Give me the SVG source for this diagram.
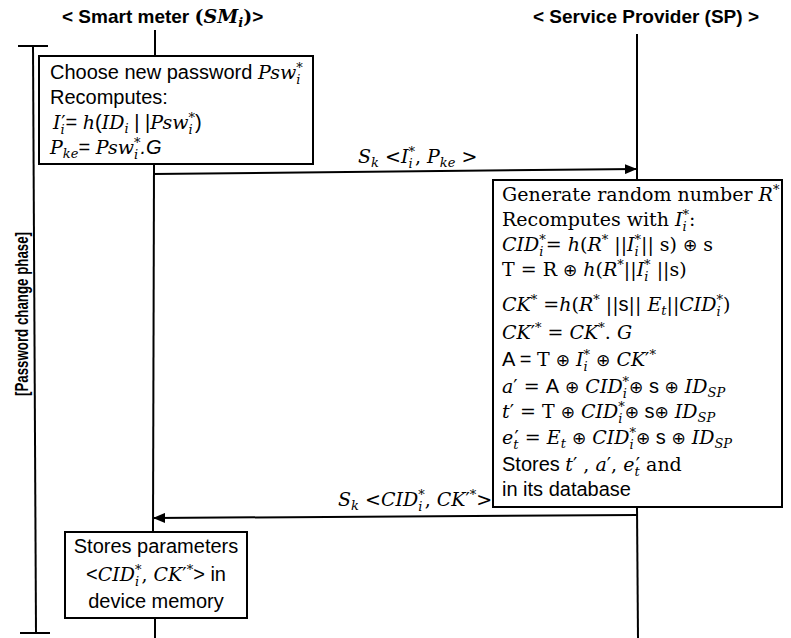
<svg xmlns="http://www.w3.org/2000/svg" width="791" height="638" viewBox="0 0 791 638">
<style>
.t{font-family:"Liberation Sans",Arial,sans-serif;font-size:20px;fill:#000}
.h{font-family:"Liberation Sans",Arial,sans-serif;font-size:19px;font-weight:bold;fill:#000}
.r{font-family:"DejaVu Serif","Liberation Serif",serif;font-size:19px;fill:#000}
.m{font-family:"DejaVu Serif","Liberation Serif",serif;font-style:italic}
.p{font-family:"DejaVu Sans",sans-serif;font-style:normal;font-size:19px}
.x{font-family:"DejaVu Sans",sans-serif;font-style:normal;font-size:17px}
.s{font-size:13px}
.box{fill:#fff;stroke:#000;stroke-width:2}
.ln{stroke:#000;stroke-width:2;fill:none}
</style>
<defs>
<marker id="ah" markerWidth="12" markerHeight="10" refX="11" refY="5" orient="auto" markerUnits="userSpaceOnUse">
<path d="M0,0 L12,5 L0,10 Z" fill="#000"/>
</marker>
</defs>

<g id="connectors">
<line class="ln" x1="155" y1="30" x2="155" y2="56"/>
<line class="ln" x1="154" y1="164" x2="153" y2="532"/>
<line class="ln" x1="155" y1="618" x2="155" y2="638"/>
<line class="ln" x1="637" y1="34" x2="637" y2="180"/>
<line class="ln" x1="637" y1="507" x2="638" y2="638"/>
<line class="ln" x1="153" y1="174" x2="636" y2="169" marker-end="url(#ah)"/>
<line class="ln" x1="637" y1="515" x2="154" y2="518" marker-end="url(#ah)"/>
<text class="r" x="358" y="163" font-size="18"><tspan class="m">S</tspan><tspan class="m s" dy="4">k</tspan><tspan dy="-4"> &lt;</tspan><tspan class="m">I</tspan><tspan class="m s" dy="5">i</tspan><tspan class="m s" dx="-4.2" dy="-12">*</tspan><tspan dy="7">, </tspan><tspan class="m">P</tspan><tspan class="m s" dy="4">ke</tspan><tspan dy="-4"> &gt;</tspan></text>
<text class="r" x="338" y="506" font-size="18"><tspan class="m">S</tspan><tspan class="m s" dy="4">k</tspan><tspan dy="-4"> &lt;</tspan><tspan class="m">CID</tspan><tspan class="m s" dy="5">i</tspan><tspan class="m s" dx="-4.2" dy="-12">*</tspan><tspan dy="7">, </tspan><tspan class="m">CK</tspan><tspan class="p" font-size="17">′</tspan><tspan class="m s" dy="-7">*</tspan><tspan dy="7">&gt;</tspan></text>
</g>

<g id="phase">
<line class="ln" x1="18" y1="46" x2="48" y2="46"/>
<line class="ln" x1="33" y1="46" x2="36" y2="633"/>
<line class="ln" x1="20" y1="633" x2="50" y2="633"/>
<text class="h" font-size="17" transform="translate(28,314) rotate(-90)" text-anchor="middle" textLength="164" lengthAdjust="spacingAndGlyphs">[Password change phase]</text>
</g>

<g id="sm-header">
<text class="h" x="62" y="23">&lt; Smart meter <tspan class="r" font-weight="bold" font-size="18">(</tspan><tspan class="r m" font-weight="bold" font-size="18">SM</tspan><tspan class="r m s" font-weight="bold" dy="4">i</tspan><tspan class="r" font-weight="bold" font-size="18" dy="-4">)</tspan>&gt;</text>
</g>

<g id="sp-header">
<text class="h" x="646" y="23" text-anchor="middle">&lt; Service Provider (SP) &gt;</text>
</g>

<g id="sm-box">
<rect class="box" x="39" y="56" width="274" height="108"/>
<text class="t" x="50" y="79">Choose new password <tspan class="r m">Psw</tspan><tspan class="r m s" dy="5">i</tspan><tspan class="r m s" dx="-4.2" dy="-12">*</tspan></text>
<text class="t" x="50" y="104">Recomputes:</text>
<text class="t" x="53" y="129"><tspan class="r m">I</tspan><tspan class="r m s" dy="5">i</tspan><tspan class="p" dx="-3.5" dy="-5">′</tspan><tspan>= </tspan><tspan class="r m">h</tspan><tspan>(</tspan><tspan class="r m">ID</tspan><tspan class="r m s" dy="4">i</tspan><tspan dy="-4"> | |</tspan><tspan class="r m">Psw</tspan><tspan class="r m s" dy="5">i</tspan><tspan class="r m s" dx="-4.2" dy="-12">*</tspan><tspan dy="7">)</tspan></text>
<text class="t" x="50" y="154"><tspan class="r m">P</tspan><tspan class="r m s" dy="4">ke</tspan><tspan dy="-4">= </tspan><tspan class="r m">Psw</tspan><tspan class="r m s" dy="5">i</tspan><tspan class="r m s" dx="-4.2" dy="-12">*</tspan><tspan dy="7" font-style="italic">.G</tspan></text>
</g>

<g id="sp-box">
<rect class="box" x="493" y="180" width="289" height="327"/>
<text class="r" x="502" y="201">Generate random number <tspan class="m">R</tspan><tspan class="m s" dy="-7">*</tspan></text>
<text class="r" x="502" y="226">Recomputes with <tspan class="m">I</tspan><tspan class="m s" dy="5">i</tspan><tspan class="m s" dx="-4.2" dy="-12">*</tspan><tspan dy="7">:</tspan></text>
<text class="r" x="502" y="251"><tspan class="m">CID</tspan><tspan class="m s" dy="5">i</tspan><tspan class="m s" dx="-4.2" dy="-12">*</tspan><tspan dy="7">= </tspan><tspan class="m">h</tspan>(<tspan class="m">R</tspan><tspan class="m s" dy="-7">*</tspan><tspan dy="7"> ||</tspan><tspan class="m">I</tspan><tspan class="m s" dy="5">i</tspan><tspan class="m s" dx="-4.2" dy="-12">*</tspan><tspan dy="7">|| s) </tspan><tspan class="x">⊕</tspan> s</text>
<text class="r" x="502" y="276">T = R <tspan class="x">⊕</tspan> <tspan class="m">h</tspan>(<tspan class="m">R</tspan><tspan class="m s" dy="-7">*</tspan><tspan dy="7">||</tspan><tspan class="m">I</tspan><tspan class="m s" dy="5">i</tspan><tspan class="m s" dx="-4.2" dy="-12">*</tspan><tspan dy="7"> ||s)</tspan></text>
<text class="r" x="502" y="311"><tspan class="m">CK</tspan><tspan class="m s" dy="-7">*</tspan><tspan dy="7"> =</tspan><tspan class="m">h</tspan>(<tspan class="m">R</tspan><tspan class="m s" dy="-7">*</tspan><tspan dy="7"> ||</tspan><tspan class="t">s</tspan>|| <tspan class="m">E</tspan><tspan class="m s" dy="4">t</tspan><tspan dy="-4">||</tspan><tspan class="m">CID</tspan><tspan class="m s" dy="5">i</tspan><tspan class="m s" dx="-4.2" dy="-12">*</tspan><tspan dy="7">)</tspan></text>
<text class="r" x="502" y="339"><tspan class="m">CK</tspan><tspan class="p">′</tspan><tspan class="m s" dy="-7">*</tspan><tspan dy="7"> = </tspan><tspan class="m">CK</tspan><tspan class="m s" dy="-7">*</tspan><tspan dy="7">. </tspan><tspan class="m">G</tspan></text>
<text class="r" x="502" y="366"><tspan class="t">A = </tspan>T <tspan class="x">⊕</tspan> <tspan class="m">I</tspan><tspan class="m s" dy="5">i</tspan><tspan class="m s" dx="-4.2" dy="-12">*</tspan><tspan dy="7"> </tspan><tspan class="x">⊕</tspan> <tspan class="m">CK</tspan><tspan class="p">′</tspan><tspan class="m s" dy="-7">*</tspan></text>
<text class="r" x="502" y="393"><tspan class="m">a</tspan><tspan class="p">′</tspan> = <tspan class="t">A</tspan> <tspan class="x">⊕</tspan> <tspan class="m">CID</tspan><tspan class="m s" dy="5">i</tspan><tspan class="m s" dx="-4.2" dy="-12">*</tspan><tspan dy="7" class="x">⊕</tspan><tspan class="t"> s </tspan><tspan class="x">⊕</tspan> <tspan class="m">ID</tspan><tspan class="m s" dy="4">SP</tspan></text>
<text class="r" x="502" y="418"><tspan class="m">t</tspan><tspan class="p">′</tspan> = T <tspan class="x">⊕</tspan> <tspan class="m">CID</tspan><tspan class="m s" dy="5">i</tspan><tspan class="m s" dx="-4.2" dy="-12">*</tspan><tspan dy="7" class="x">⊕</tspan><tspan class="t"> s</tspan><tspan class="x">⊕</tspan> <tspan class="m">ID</tspan><tspan class="m s" dy="4">SP</tspan></text>
<text class="r" x="502" y="444"><tspan class="m">e</tspan><tspan class="m s" dy="5">t</tspan><tspan class="p" dx="-4" dy="-5">′</tspan> = <tspan class="m">E</tspan><tspan class="m s" dy="4">t</tspan><tspan dy="-4"> </tspan><tspan class="x">⊕</tspan> <tspan class="m">CID</tspan><tspan class="m s" dy="5">i</tspan><tspan class="m s" dx="-4.2" dy="-12">*</tspan><tspan dy="7" class="x">⊕</tspan><tspan class="t"> s </tspan><tspan class="x">⊕</tspan> <tspan class="m">ID</tspan><tspan class="m s" dy="4">SP</tspan></text>
<text class="r" x="502" y="471"><tspan class="t">Stores  </tspan><tspan class="m">t</tspan><tspan class="p">′</tspan> , <tspan class="m">a</tspan><tspan class="p">′</tspan>, <tspan class="m">e</tspan><tspan class="m s" dy="5">t</tspan><tspan class="p" dx="-4" dy="-5">′</tspan> and</text>
<text class="t" x="502" y="496">in its database</text>
</g>

<g id="store-box">
<rect class="box" x="65" y="532" width="182" height="86"/>
<text class="t" x="156" y="553" text-anchor="middle">Stores parameters</text>
<text class="t" x="156" y="581" text-anchor="middle">&lt;<tspan class="r m" font-size="18">CID</tspan><tspan class="r m s" dy="5">i</tspan><tspan class="r m s" dx="-4.2" dy="-12">*</tspan><tspan class="r" font-size="18" dy="7">, </tspan><tspan class="r m" font-size="18">CK</tspan><tspan class="p" font-size="17">′</tspan><tspan class="r m s" dy="-7">*</tspan><tspan dy="7">&gt; in</tspan></text>
<text class="t" x="156" y="608" text-anchor="middle">device memory</text>
</g>
</svg>
